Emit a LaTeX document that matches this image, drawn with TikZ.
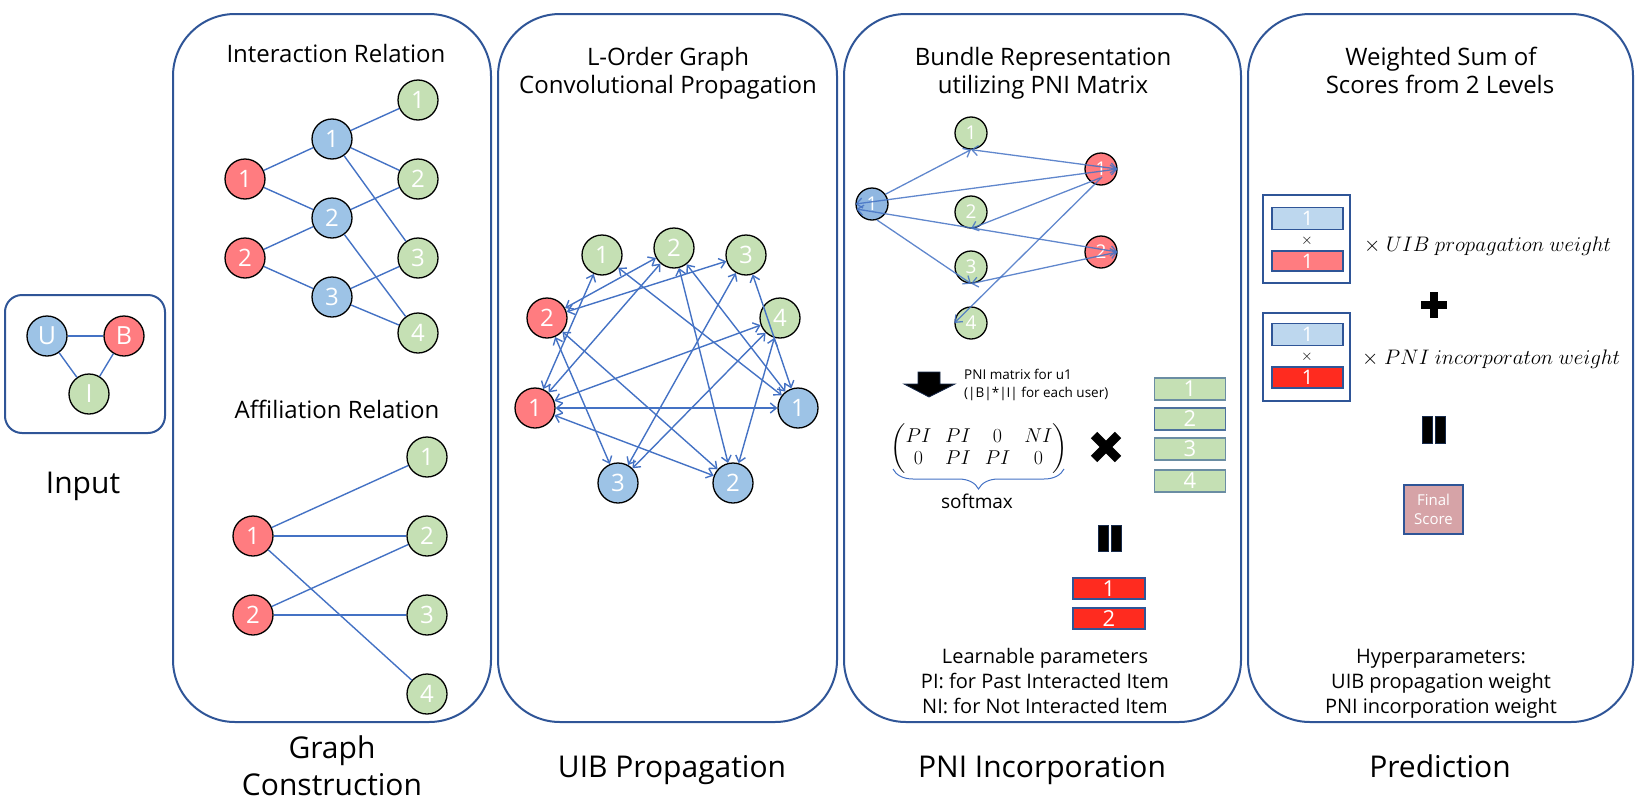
\RequirePackage{fix-cm}
\documentclass[tikz,border=0pt]{standalone}
\usepackage{amsmath}
\usepackage{fontspec}
\setmainfont{Open Sans}
\usetikzlibrary{arrows.meta,calc,decorations.pathreplacing}
\definecolor{ublue}{HTML}{9DC3E6}
\definecolor{bred}{HTML}{FF7C80}
\definecolor{igreen}{HTML}{C5E0B4}
\definecolor{edgeblue}{HTML}{4472C4}
\definecolor{panelblue}{HTML}{2F5597}
\definecolor{brightred}{HTML}{FF2B1F}
\definecolor{barblue}{HTML}{BDD7EE}
\definecolor{finalpink}{HTML}{D6A3A7}
\newcommand\myfs[2]{\fontsize{#1}{#2}\selectfont}
\begin{document}
\begin{tikzpicture}[x=1pt,y=-1pt,
  panel/.style={draw=panelblue,line width=2pt,rounded corners=62pt},
  nd/.style={circle,draw=black,line width=1.3pt,minimum size=40pt,inner sep=0pt,text=white,font=\myfs{24}{24}},
  usr/.style={nd,fill=ublue},
  bnd/.style={nd,fill=bred},
  itm/.style={nd,fill=igreen},
  sm/.style={minimum size=32pt,font=\myfs{19}{19}},
  gedge/.style={draw=edgeblue,line width=1.4pt},
  aedge/.style={gedge,<->},
  pedge/.style={draw=edgeblue,line width=1.3pt,draw opacity=0.85},
  ttl/.style={anchor=base,font=\myfs{24}{28},inner sep=0pt},
  big/.style={anchor=base,font=\myfs{30}{36},inner sep=0pt},
  note/.style={anchor=base,font=\myfs{20}{24},inner sep=0pt},
  bar/.style={draw=panelblue,line width=1.2pt,minimum width=71pt,minimum height=22pt,inner sep=0pt,text=white,font=\myfs{22}{22}},
  sbar/.style={bar,font=\myfs{20}{20}},
  blk/.style={fill=black,draw=panelblue!50!black,line width=0.8pt},
  frame/.style={draw=panelblue,line width=1.5pt},
  tms/.style={inner sep=0pt,font=\myfs{15}{15}},
  >={Straight Barb[length=6pt,width=10pt]}
]
\useasboundingbox (0,0) rectangle (1644,806);

% ---------- panels ----------
\draw[panelblue,line width=2pt,rounded corners=17pt] (5,295) rectangle (165,433);
\draw[panel] (173,14) rectangle (491,722);
\draw[panel] (498,14) rectangle (837,722);
\draw[panel] (844,14) rectangle (1241,722);
\draw[panel] (1248,14) rectangle (1633,722);

% ---------- input ----------
\node[usr,font=\myfs{25}{25}] (iu) at (47,336) {U};
\node[bnd,font=\myfs{25}{25}] (ib) at (124,336) {B};
\node[itm,font=\myfs{25}{25}] (ii) at (89,394) {I};
\draw[gedge] (iu) -- (ib);
\draw[gedge] (iu) -- (ii);
\draw[gedge] (ib) -- (ii);
\node[big] (lin) at (83,493) {Input};

% ---------- graph construction ----------
\node[ttl] (t2a) at (336,62.7) {Interaction Relation};
\node[bnd] (gr1) at (245,179) {1};
\node[bnd] (gr2) at (245,258) {2};
\node[usr] (gb1) at (332,139) {1};
\node[usr] (gb2) at (332,218) {2};
\node[usr] (gb3) at (332,297) {3};
\node[itm] (gg1) at (418,100) {1};
\node[itm] (gg2) at (418,179) {2};
\node[itm] (gg3) at (418,258) {3};
\node[itm] (gg4) at (418,333) {4};
\draw[gedge] (gr1) -- (gb1);
\draw[gedge] (gr1) -- (gb2);
\draw[gedge] (gr2) -- (gb2);
\draw[gedge] (gr2) -- (gb3);
\draw[gedge] (gb1) -- (gg1);
\draw[gedge] (gb1) -- (gg2);
\draw[gedge] (gb1) -- (gg3);
\draw[gedge] (gb2) -- (gg2);
\draw[gedge] (gb2) -- (gg4);
\draw[gedge] (gb3) -- (gg3);
\draw[gedge] (gb3) -- (gg4);

\node[ttl] (t2b) at (337,418) {Affiliation Relation};
\node[bnd] (ar1) at (253,536) {1};
\node[bnd] (ar2) at (253,615) {2};
\node[itm] (ag1) at (427,457) {1};
\node[itm] (ag2) at (427,536) {2};
\node[itm] (ag3) at (427,615) {3};
\node[itm] (ag4) at (427,694) {4};
\draw[gedge] (ar1) -- (ag1);
\draw[gedge] (ar1) -- (ag2);
\draw[gedge] (ar1) -- (ag4);
\draw[gedge] (ar2) -- (ag2);
\draw[gedge] (ar2) -- (ag3);
\node[big] (lgc1) at (332,758) {Graph};
\node[big] (lgc2) at (332,795) {Construction};

% ---------- UIB propagation ----------
\node[ttl] (t3a) at (668,65) {L-Order Graph};
\node[ttl] (t3b) at (668,93) {Convolutional Propagation};
\node[itm] (cg1) at (602,255) {1};
\node[itm] (cg2) at (674,248) {2};
\node[itm] (cg3) at (746,255) {3};
\node[itm] (cg4) at (780,318) {4};
\node[bnd] (cr2) at (547,318) {2};
\node[bnd] (cr1) at (535,408) {1};
\node[usr] (cb1) at (798,408) {1};
\node[usr] (cb3) at (618,483) {3};
\node[usr] (cb2) at (733,483) {2};
\draw[aedge] (cr1) -- (cb1);
\draw[aedge] (cr1) -- (cb2);
\draw[aedge] (cr2) -- (cb2);
\draw[aedge] (cr2) -- (cb3);
\draw[aedge] (cb1) -- (cg1);
\draw[aedge] (cb1) -- (cg2);
\draw[aedge] (cb1) -- (cg3);
\draw[aedge] (cb2) -- (cg2);
\draw[aedge] (cb2) -- (cg4);
\draw[aedge] (cb3) -- (cg3);
\draw[aedge] (cb3) -- (cg4);
\draw[aedge] (cr1) -- (cg1);
\draw[aedge] (cr1) -- (cg2);
\draw[aedge] (cr1) -- (cg4);
\draw[aedge] (cr2) -- (cg2);
\draw[aedge] (cr2) -- (cg3);
\node[big] (luib) at (672,777) {UIB Propagation};

% ---------- PNI incorporation ----------
\node[ttl] (t4a) at (1043,65) {Bundle Representation};
\node[ttl] (t4b) at (1043,93) {utilizing PNI Matrix};
\node[itm,sm] (pg1) at (971,133) {1};
\node[itm,sm] (pg2) at (971,212) {2};
\node[itm,sm] (pg3) at (971,267) {3};
\node[itm,sm] (pg4) at (971,323) {4};
\node[usr,sm,fill=ublue!85!edgeblue] (pb1) at (872,204) {1};
\node[bnd,sm] (pr1) at (1101,169) {1};
\node[bnd,sm] (pr2) at (1101,252) {2};
\draw[pedge,->] (pb1.36) -- (pg1.south);
\draw[pedge,<->] (pg1.south) -- (pr1.east);
\draw[pedge,<->] (pb1.west) -- (pr1.east);
\draw[pedge,->] ($(pr1)+(-1,9)$) -- (pg2.south);
\draw[pedge,<->] ($(pb1.west)+(1,5)$) -- (pr2.east);
\draw[pedge,->] (pb1.-73) -- (pg3.south);
\draw[pedge,<->] (pr2.east) -- (pg3.south);
\draw[pedge,->] ($(pr1)+(1,8)$) -- (pg4.west);

\draw[blk] (918,372) -- (940,372) -- (940,384) -- (955,384) -- (929,397) -- (904,384) -- (918,384) -- cycle;
\node[anchor=base west,font=\myfs{13.5}{18},inner sep=0pt] (pm1) at (964,379) {PNI matrix for u1};
\node[anchor=base west,font=\myfs{13.5}{18},inner sep=0pt] (pm2) at (964,397) {(|B|*|I| for each user)};
\node[font=\myfs{20}{22},inner sep=0pt] (mat) at (979,449)
  {\setlength{\arraycolsep}{7pt}$\begin{pmatrix} PI & PI & 0 & NI\\ 0 & PI & PI & 0\end{pmatrix}$};
\draw[draw=edgeblue,line width=1pt,decorate,decoration={brace,amplitude=20pt}] (1064,469) -- (893,469);
\node[note,font=\myfs{19}{24}] (smx) at (977,508) {softmax};

\draw[line width=9pt,black] (1094,435) -- (1118,459);
\draw[line width=9pt,black] (1118,435) -- (1094,459);

\node[bar,fill=igreen,draw=panelblue!60!igreen] (gv1) at (1190,389) {1};
\node[bar,fill=igreen,draw=panelblue!80!igreen] (gv2) at (1190,419) {2};
\node[bar,fill=igreen,draw=panelblue!60!igreen] (gv3) at (1190,449) {3};
\node[bar,fill=igreen,draw=panelblue!60!igreen] (gv4) at (1190,481) {4};

\draw[blk] (1098,525) rectangle (1108,551);
\draw[blk] (1111,525) rectangle (1121,551);

\node[bar,fill=brightred,minimum width=72pt,minimum height=21pt] (rv1) at (1109,588.5) {1};
\node[bar,fill=brightred,minimum width=72pt,minimum height=21pt] (rv2) at (1109,618.5) {2};

\node[note] (lp1) at (1045,663) {Learnable parameters};
\node[note] (lp2) at (1045,688) {PI: for Past Interacted Item};
\node[note] (lp3) at (1045,713) {NI: for Not Interacted Item};
\node[big] (lpni) at (1042,777) {PNI Incorporation};

% ---------- prediction ----------
\node[ttl] (t5a) at (1441,65) {Weighted Sum of};
\node[ttl] (t5b) at (1440,93) {Scores from 2 Levels};

\draw[frame] (1263,195) rectangle (1350,283);
\node[sbar,fill=barblue] (sb1) at (1307.5,218.5) {1};
\node[tms] (sx1) at (1307,241) {$\times$};
\node[sbar,fill=bred,minimum height=20pt] (sr1) at (1307.5,261) {1};
\node[anchor=base west,inner sep=0pt,font=\myfs{21}{24}] (w1) at (1364,251) {$\times\ UIB\ propagation\ weight$};

\draw[line width=8pt,black] (1421,305) -- (1447,305);
\draw[line width=8pt,black] (1434,292) -- (1434,318);

\draw[frame] (1263,313) rectangle (1350,401);
\node[sbar,fill=barblue] (sb2) at (1307.5,334.5) {1};
\node[tms] (sx2) at (1307,357) {$\times$};
\node[sbar,fill=brightred,minimum height=21pt] (sr2) at (1307.5,377.5) {1};
\node[anchor=base west,inner sep=0pt,font=\myfs{21}{24}] (w2) at (1362,364) {$\times\ PNI\ incorporaton\ weight$};

\draw[blk] (1422,416) rectangle (1432,443);
\draw[blk] (1435,416) rectangle (1445,443);

\node[draw=panelblue,line width=1.2pt,fill=finalpink,minimum width=59pt,minimum height=49pt,inner sep=0pt,text=white,align=center,font=\myfs{15}{19}] (fs) at (1433.5,509.5) {Final\\Score};

\node[note] (hp1) at (1441,663) {Hyperparameters:};
\node[note] (hp2) at (1441,688) {UIB propagation weight};
\node[note] (hp3) at (1441,713) {PNI incorporation weight};
\node[big] (lpred) at (1440,777) {Prediction};
\end{tikzpicture}
\end{document}
